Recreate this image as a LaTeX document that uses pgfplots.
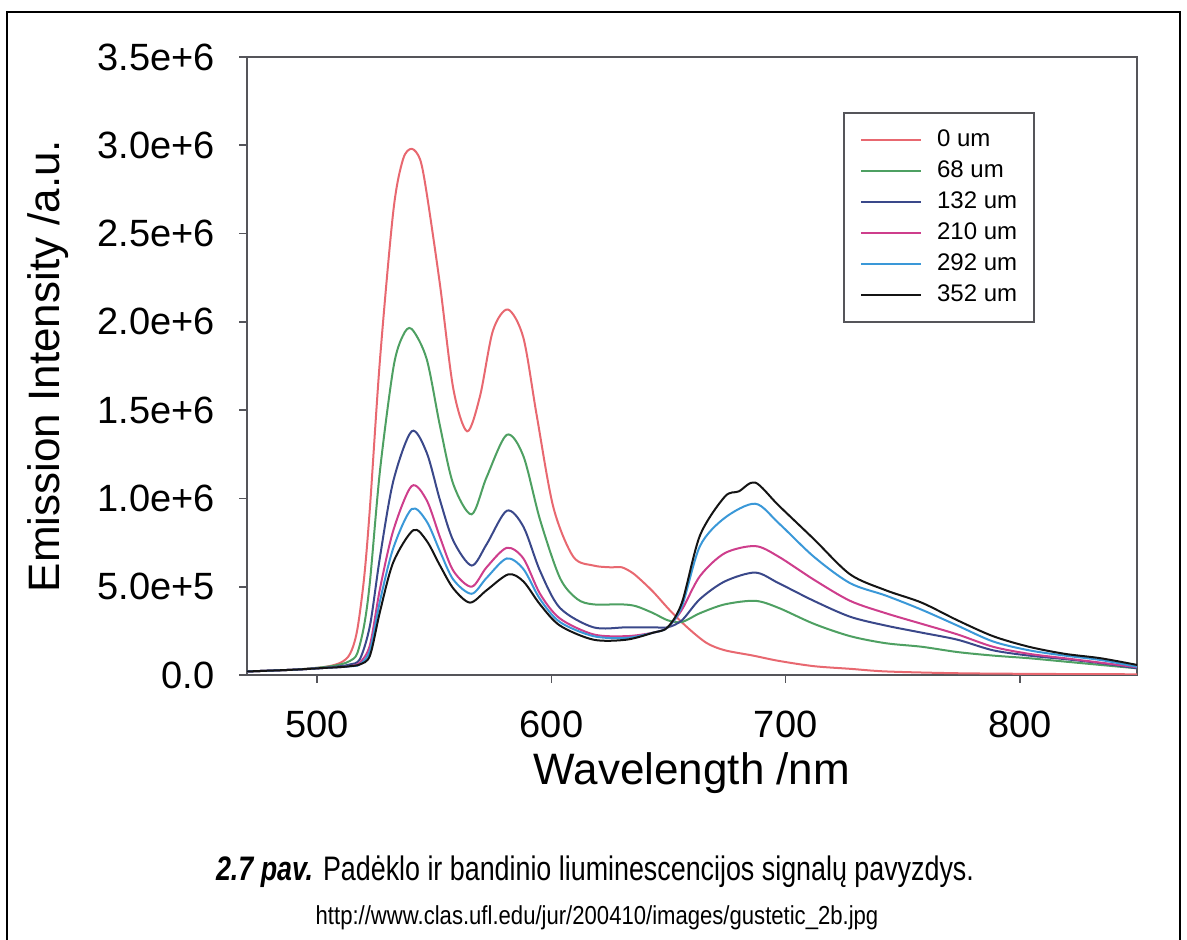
\documentclass[border=0pt]{standalone}
\usepackage{fontspec}
\setmainfont{Liberation Sans}
\usepackage{pgfplots}
\pgfplotsset{compat=1.18}

\definecolor{c0}{RGB}{232,104,112}
\definecolor{c68}{RGB}{78,160,98}
\definecolor{c132}{RGB}{58,72,138}
\definecolor{c210}{RGB}{206,62,140}
\definecolor{c292}{RGB}{58,152,216}
\definecolor{c352}{RGB}{20,20,20}
\definecolor{axgray}{RGB}{85,85,90}

\begin{document}
\begin{tikzpicture}
% page = 1187 x 940 px, 1 px = 0.5pt
\path[use as bounding box] (0,0) rectangle (593.5pt,470pt);
\draw[line width=1pt] (3.5pt,0) -- (3.5pt,464pt) -- (590pt,464pt) -- (590pt,0);

\begin{axis}[
  at={(123.5pt,132.5pt)}, anchor=south west,
  scale only axis, width=445pt, height=309pt,
  xmin=470, xmax=850, ymin=0, ymax=3.5e6,
  xtick={500,600,700,800},
  xticklabels={500,600,700,800},
  ytick={0,500000,1000000,1500000,2000000,2500000,3000000,3500000},
  yticklabels={0.0,5.0e+5,1.0e+6,1.5e+6,2.0e+6,2.5e+6,3.0e+6,3.5e+6},
  scaled y ticks=false,
  tick align=outside, tick pos=left,
  major tick length=4pt,
  tick style={axgray, line width=0.8pt},
  axis line style={axgray, line width=0.8pt},
  tick label style={font=\fontsize{19}{22}\selectfont, inner sep=0pt},
  yticklabel style={xshift=-12pt},
  xticklabel style={yshift=-14pt},
  xlabel={Wavelength /nm},
  ylabel={Emission Intensity /a.u.},
  label style={font=\fontsize{22}{26}\selectfont},
  xlabel style={at={(axis description cs:0.5,0)}, anchor=center, yshift=-49pt},
  ylabel style={at={(axis description cs:-0.2236,0.5)}, anchor=center},
  every axis plot/.append style={line width=1pt, smooth},
  legend image code/.code={\draw[#1] (0pt,0pt) -- (30pt,0pt);},
  legend cell align=left,
  legend style={at={(0.670,0.911)}, anchor=north west,
    draw=axgray, line width=0.8pt,
    font=\fontsize{12}{14}\selectfont,
    inner xsep=8pt, inner ysep=8pt, row sep=4.5pt,
    nodes={inner xsep=0.5pt, inner ysep=0pt, text height=9pt, text depth=2pt},
    /tikz/every odd column/.append style={column sep=7pt}},
]
\addplot[c0] coordinates {
(470,0.02e6) (490,0.03e6) (503,0.045e6) (510,0.07e6) (514,0.12e6) (517,0.25e6)
(520,0.55e6) (522.5,0.95e6) (526.8,1.79e6) (532.5,2.63e6) (536.6,2.92e6) (540.3,2.98e6)
(543.9,2.92e6) (546.7,2.73e6) (552.4,2.21e6) (558.1,1.62e6) (564,1.38e6)
(569.5,1.58e6) (575,1.95e6) (581.4,2.07e6) (588,1.91e6) (593.7,1.47e6)
(600.8,0.95e6) (609.3,0.67e6) (617.9,0.62e6) (625,0.61e6) (630,0.61e6)
(634.4,0.58e6) (638,0.54e6) (643.5,0.47e6) (651,0.36e6) (658.8,0.26e6)
(666.4,0.18e6) (674,0.14e6) (686,0.11e6) (697,0.08e6) (712,0.05e6)
(727.5,0.035e6) (743,0.02e6) (773,0.01e6) (810,0.006e6) (850,0.004e6)
};
\addplot[c68] coordinates {
(470,0.02e6) (490,0.03e6) (503,0.045e6) (510,0.06e6) (514,0.08e6) (517,0.12e6)
(520,0.28e6) (522.5,0.53e6) (526.8,1.16e6) (532.5,1.74e6) (536.5,1.92e6) (540.3,1.96e6)
(546.7,1.79e6) (552.4,1.41e6) (558.1,1.08e6) (565.9,0.91e6) (572.3,1.12e6)
(580.9,1.36e6) (588,1.24e6) (595.1,0.88e6) (603.6,0.55e6) (611,0.43e6)
(617.9,0.40e6) (629.8,0.40e6) (636,0.39e6) (643.5,0.35e6) (649.6,0.31e6)
(655.7,0.30e6) (663.4,0.35e6) (674,0.40e6) (687,0.42e6) (697,0.38e6)
(712,0.29e6) (727.5,0.22e6) (742.7,0.18e6) (758,0.16e6) (773.3,0.13e6)
(788.5,0.11e6) (803.8,0.095e6) (819.1,0.076e6) (834.4,0.057e6) (850,0.038e6)
};
\addplot[c132] coordinates {
(470,0.02e6) (490,0.03e6) (503,0.04e6) (510,0.05e6) (514,0.06e6) (518.2,0.09e6)
(522.5,0.28e6) (526.8,0.67e6) (532.5,1.10e6) (540.3,1.38e6) (546.7,1.26e6)
(552.4,0.99e6) (558.1,0.76e6) (565.9,0.62e6) (572.3,0.74e6) (580.9,0.93e6)
(588,0.84e6) (595.1,0.59e6) (603.6,0.38e6) (617.9,0.27e6) (632,0.27e6)
(643.5,0.27e6) (649.6,0.27e6) (655.7,0.31e6) (663.4,0.43e6) (674,0.53e6)
(687,0.58e6) (697,0.52e6) (712,0.42e6) (727.5,0.33e6) (742.7,0.28e6)
(758,0.24e6) (773.3,0.20e6) (788.5,0.14e6) (803.8,0.11e6) (819.1,0.09e6)
(834.4,0.067e6) (850,0.038e6)
};
\addplot[c210] coordinates {
(470,0.02e6) (490,0.03e6) (503,0.04e6) (510,0.045e6) (514,0.05e6) (518.2,0.07e6)
(522.5,0.17e6) (526.8,0.49e6) (532.5,0.82e6) (540.3,1.07e6) (546.7,0.99e6)
(552.4,0.78e6) (558.1,0.59e6) (565.9,0.50e6) (572.3,0.61e6) (580.9,0.72e6)
(588,0.66e6) (595.1,0.46e6) (603.6,0.32e6) (617.9,0.23e6) (632,0.22e6)
(643.5,0.24e6) (649.6,0.27e6) (655.7,0.37e6) (663.4,0.56e6) (674,0.69e6)
(687,0.73e6) (697,0.67e6) (712,0.54e6) (727.5,0.42e6) (742.7,0.35e6)
(758,0.29e6) (773.3,0.23e6) (788.5,0.16e6) (803.8,0.12e6) (819.1,0.095e6)
(834.4,0.07e6) (850,0.044e6)
};
\addplot[c292] coordinates {
(470,0.02e6) (490,0.03e6) (503,0.04e6) (510,0.045e6) (514,0.05e6) (518.2,0.06e6)
(522.5,0.14e6) (526.8,0.42e6) (532.5,0.72e6) (540.3,0.94e6) (546.7,0.87e6)
(552.4,0.70e6) (558.1,0.54e6) (565.9,0.46e6) (572.3,0.55e6) (580.9,0.66e6)
(588,0.60e6) (595.1,0.43e6) (603.6,0.30e6) (617.9,0.22e6) (632,0.21e6)
(643.5,0.24e6) (649.6,0.27e6) (655.7,0.39e6) (663.4,0.73e6) (674,0.89e6)
(687,0.97e6) (697,0.86e6) (712,0.67e6) (727.5,0.52e6) (742.7,0.45e6)
(758,0.37e6) (773.3,0.28e6) (788.5,0.19e6) (803.8,0.14e6) (819.1,0.11e6)
(834.4,0.085e6) (850,0.047e6)
};
\addplot[c352] coordinates {
(470,0.02e6) (490,0.03e6) (503,0.04e6) (510,0.045e6) (514,0.05e6) (518.2,0.06e6)
(522.5,0.11e6) (526.8,0.36e6) (532.5,0.64e6) (541,0.82e6) (546.7,0.76e6)
(552.4,0.62e6) (558.1,0.49e6) (565.2,0.41e6) (572.3,0.48e6) (581.6,0.57e6)
(588,0.53e6) (595.1,0.40e6) (603.6,0.28e6) (617.9,0.20e6) (632,0.20e6)
(643.5,0.24e6) (649.6,0.27e6) (655.7,0.41e6) (663.4,0.79e6) (674,1.01e6)
(680,1.04e6) (687,1.09e6) (697,0.96e6) (712,0.77e6) (727.5,0.57e6)
(742.7,0.48e6) (758,0.41e6) (773.3,0.31e6) (788.5,0.22e6) (803.8,0.16e6)
(819.1,0.12e6) (834.4,0.095e6) (850,0.057e6)
};
\legend{0 um,68 um,132 um,210 um,292 um,352 um}
\end{axis}

\node at (297.5pt,34pt) {\scalebox{0.79}[1]{\fontsize{17}{20}\selectfont\textbf{\textit{2.7 pav.}} Padėklo ir bandinio liuminescencijos signalų pavyzdys.}};
\node at (298.5pt,11pt) {\scalebox{0.85}[1]{\fontsize{13}{15}\selectfont http://www.clas.ufl.edu/jur/200410/images/gustetic\_2b.jpg}};
\end{tikzpicture}
\end{document}
